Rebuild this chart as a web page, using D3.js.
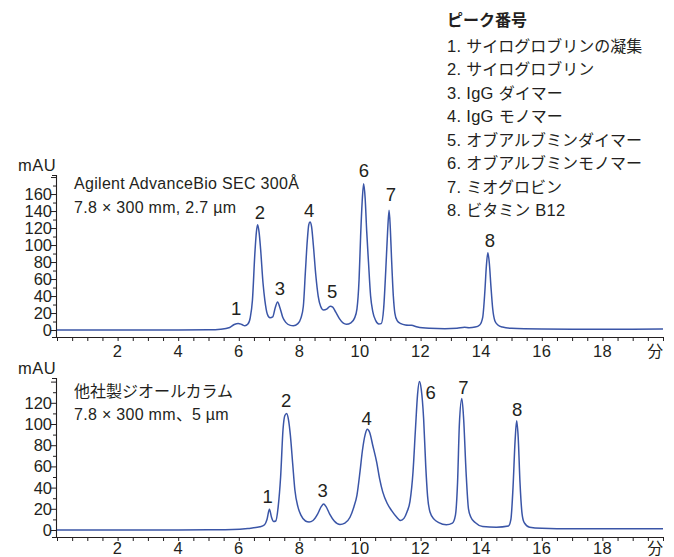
<!DOCTYPE html>
<html>
<head>
<meta charset="utf-8">
<script src="https://cdn.jsdelivr.net/npm/d3@7/dist/d3.min.js"></script>
<style>
  html, body { margin: 0; padding: 0; background: #fff; }
  svg { display: block; }
</style>
</head>
<body>
<svg id="chart" width="674" height="557"></svg>
<script>
// ---------- DATA ----------
const xTickLabels = ["2", "4", "6", "8", "10", "12", "14", "16", "18", "分"];
const xTickLabelValues = [2, 4, 6, 8, 10, 12, 14, 16, 18, 20];

const topTimes = [0, 1, 2, 3, 4, 5, 5.4, 5.7, 5.85, 5.98, 6.1, 6.2, 6.3, 6.38, 6.45, 6.53, 6.58, 6.62, 6.67, 6.72, 6.8, 6.86, 6.94, 7.03, 7.12, 7.2, 7.28, 7.36, 7.45, 7.55, 7.7, 7.8, 7.95, 8.05, 8.13, 8.2, 8.26, 8.31, 8.35, 8.4, 8.46, 8.54, 8.62, 8.7, 8.8, 8.9, 9.02, 9.1, 9.2, 9.32, 9.45, 9.55, 9.7, 9.82, 9.9, 9.97, 10.02, 10.07, 10.12, 10.17, 10.22, 10.28, 10.35, 10.42, 10.52, 10.62, 10.7, 10.78, 10.85, 10.91, 10.96, 11.0, 11.04, 11.1, 11.15, 11.22, 11.35, 11.5, 11.7, 11.9, 12.3, 12.8, 13.2, 13.45, 13.6, 13.8, 13.95, 14.05, 14.12, 14.17, 14.22, 14.27, 14.32, 14.38, 14.45, 14.55, 14.7, 15, 16, 17, 18, 19, 20];
const topValues = [0, 0, 0, 0, 0, 0.3, 1, 3, 6.5, 7.8, 6.5, 5, 7, 15, 35, 90, 115, 124, 115, 95, 55, 35, 19, 14.5, 15.5, 26, 33, 26, 15, 9, 5.5, 5, 7.5, 14, 28, 70, 105, 124, 127, 122, 100, 65, 40, 28, 23.5, 24.5, 28, 27, 21, 13.5, 8, 6.8, 8.5, 14, 25, 60, 110, 150, 172, 155, 117, 80, 40, 22, 11, 7, 7.5, 25, 70, 115, 141, 120, 85, 40, 20, 11.5, 7.5, 6, 5.5, 3.5, 2, 1.5, 2, 3.2, 2.8, 3.5, 6, 15, 45, 75, 91, 78, 52, 25, 11, 6, 3.5, 2, 1.2, 1, 1, 1, 1.2];

const bottomTimes = [0, 2, 4, 5, 5.8, 6.3, 6.7, 6.85, 6.93, 7.01, 7.08, 7.15, 7.22, 7.3, 7.38, 7.46, 7.52, 7.58, 7.64, 7.7, 7.78, 7.85, 7.95, 8.05, 8.2, 8.32, 8.45, 8.6, 8.72, 8.8, 8.88, 9.0, 9.15, 9.34, 9.5, 9.67, 9.8, 9.9, 10.0, 10.08, 10.17, 10.24, 10.32, 10.42, 10.55, 10.65, 10.75, 10.9, 11.05, 11.2, 11.34, 11.45, 11.55, 11.65, 11.75, 11.83, 11.9, 11.96, 12.02, 12.1, 12.17, 12.23, 12.31, 12.45, 12.6, 12.85, 13.05, 13.15, 13.22, 13.28, 13.36, 13.42, 13.5, 13.58, 13.66, 13.8, 14.05, 14.5, 14.9, 14.98, 15.05, 15.12, 15.17, 15.22, 15.28, 15.35, 15.42, 15.6, 16, 17, 18, 19, 20];
const bottomValues = [0, 0, 0, 0.2, 0.5, 1.5, 3, 5, 10, 19.5, 12, 8, 8.5, 22, 50, 95, 108, 110, 104, 90, 62, 38, 22, 14, 8.5, 7.5, 9, 15, 22, 24.5, 22, 15, 8.5, 5.2, 6.5, 12, 22, 33, 55, 75, 90, 95, 92, 80, 64, 48, 36, 25, 18, 12.5, 9, 11, 17, 27, 55, 95, 128, 140, 133, 105, 60, 32, 17, 10, 7, 5, 6.5, 14, 45, 100, 124, 105, 55, 20, 12, 7, 3.3, 2.7, 3.8, 10, 40, 85, 103, 88, 45, 15, 7, 2.7, 1.7, 1.2, 1.3, 1.1, 1.1];

const topPeakIds = ["1", "2", "3", "4", "5", "6", "7", "8"];
const topPeakTimes = [5.91, 6.70, 7.36, 8.32, 9.08, 10.13, 11.02, 14.29];
const topPeakLabelValues = [25.5, 139, 49, 141, 45, 188, 160, 106];

const bottomPeakIds = ["1", "2", "3", "4", "6", "7", "8"];
const bottomPeakTimes = [6.95, 7.56, 8.77, 10.22, 12.33, 13.41, 15.19];
const bottomPeakLabelValues = [31.4, 122, 37, 105, 130, 134.6, 114];

const topYTicks = d3.range(0, 181, 10);
const topYLabels = [0, 20, 40, 60, 80, 100, 120, 140, 160];
const bottomYTicks = d3.range(0, 141, 10);
const bottomYLabels = [0, 20, 40, 60, 80, 100, 120];

const topColumnLines = ["Agilent AdvanceBio SEC 300Å", "7.8 × 300 mm, 2.7 µm"];
const bottomColumnLines = ["他社製ジオールカラム", "7.8 × 300 mm、5 µm"];
const yUnit = "mAU";

const legendTitle = "ピーク番号";
const legendItems = [
  "1. サイログロブリンの凝集",
  "2. サイログロブリン",
  "3. IgG ダイマー",
  "4. IgG モノマー",
  "5. オブアルブミンダイマー",
  "6. オブアルブミンモノマー",
  "7. ミオグロビン",
  "8. ビタミン B12"
];

// ---------- STYLE ----------
const LATIN = "'Liberation Sans Narrow', 'Liberation Sans', Arial, sans-serif";
const CJK = "'Noto Sans CJK JP', 'Noto Sans CJK SC', sans-serif";
const INK = "#231f20";
const LINE = "#3a55a7";

const svg = d3.select("#chart");

function richText(g, str, latinSize, cjkSize, weight) {
  const parts = str.split(/([\u3000-\u30ff\u3400-\u9fff\uff00-\uffef]+)/).filter(s => s.length);
  parts.forEach(p => {
    const isCjk = /[\u3000-\u30ff\u3400-\u9fff\uff00-\uffef]/.test(p);
    g.append("tspan")
      .attr("font-family", isCjk ? CJK : LATIN)
      .attr("font-size", isCjk ? cjkSize : latinSize)
      .attr("font-weight", weight || "normal")
      .attr("letter-spacing", isCjk ? 0 : 0.3)
      .text(p);
  });
}

const x = d3.scaleLinear().domain([0, 20]).range([57, 663]);

function panel(cfg) {
  const y = d3.scaleLinear().domain(cfg.yDomain).range(cfg.yRange);
  const g = svg.append("g");

  // x axis
  const xAxis = d3.axisBottom(x)
    .tickValues(d3.range(0, 20.001, 0.5))
    .tickSize(4)
    .tickSizeOuter(0)
    .tickFormat("");
  const gx = g.append("g").attr("transform", `translate(0,${cfg.yRange[0]})`).call(xAxis);
  gx.select(".domain").attr("stroke", INK).attr("stroke-width", 1.1);
  gx.selectAll(".tick line").attr("stroke", INK).attr("stroke-width", 1);

  // x labels
  g.append("g").selectAll("text")
    .data(xTickLabelValues)
    .join("text")
    .attr("x", d => x(d))
    .attr("y", cfg.yRange[0] + cfg.xLabelOffset)
    .attr("dy", "0.36em")
    .attr("text-anchor", (d, i) => i === xTickLabelValues.length - 1 ? "end" : "middle")
    .attr("fill", INK)
    .each(function (d, i) { richText(d3.select(this), xTickLabels[i], 16.5, 15.5); });

  // y axis
  const yAxis = d3.axisLeft(y)
    .tickValues(cfg.yTicks)
    .tickSizeOuter(0)
    .tickSize(4)
    .tickFormat("");
  const gy = g.append("g").attr("transform", `translate(${x(0) - 1},0)`).call(yAxis);
  gy.select(".domain").attr("stroke", INK).attr("stroke-width", 1.1);
  gy.selectAll(".tick line")
    .attr("stroke", INK)
    .attr("x2", d => d % 20 === 0 ? -5 : -3);

  g.append("g").selectAll("text")
    .data(cfg.yLabels)
    .join("text")
    .attr("x", x(0) - 5)
    .attr("y", d => y(d))
    .attr("dy", "0.36em")
    .attr("text-anchor", "end")
    .attr("font-family", LATIN)
    .attr("font-size", 16.5)
    .attr("fill", INK)
    .text(d => d);

  // unit
  g.append("text")
    .attr("x", 18)
    .attr("y", cfg.unitY)
    .attr("dy", "0.36em")
    .attr("font-family", LATIN)
    .attr("font-size", 16.5)
    .attr("letter-spacing", 0.5)
    .attr("fill", INK)
    .text(yUnit);

  // trace
  const pts = cfg.times.map((t, i) => [t, cfg.values[i]]);
  g.append("path")
    .datum(pts)
    .attr("fill", "none")
    .attr("stroke", LINE)
    .attr("stroke-width", 1.5)
    .attr("stroke-linejoin", "round")
    .attr("d", d3.line().x(d => x(d[0])).y(d => y(d[1])).curve(d3.curveMonotoneX));

  // peak labels
  g.append("g").selectAll("text")
    .data(cfg.peakIds)
    .join("text")
    .attr("x", (d, i) => x(cfg.peakTimes[i]))
    .attr("y", (d, i) => y(cfg.peakValues[i]))
    .attr("dy", "0.36em")
    .attr("text-anchor", "middle")
    .attr("font-family", LATIN)
    .attr("font-size", 18.5)
    .attr("fill", INK)
    .text(d => d);

  // column description
  cfg.columnLines.forEach((line, i) => {
    const t = g.append("text")
      .attr("x", 74)
      .attr("y", cfg.columnY[i])
      .attr("dy", "0.36em")
      .attr("fill", INK);
    richText(t, line, 16, 16);
  });
}

panel({
  yDomain: [-8.2, 182.4], yRange: [337, 175], yTicks: topYTicks, yLabels: topYLabels,
  times: topTimes, values: topValues,
  peakIds: topPeakIds, peakTimes: topPeakTimes, peakValues: topPeakLabelValues,
  columnLines: topColumnLines, columnY: [183, 207], unitY: 165, xLabelOffset: 14.5
});

panel({
  yDomain: [-6.6, 143.4], yRange: [537, 378], yTicks: bottomYTicks, yLabels: bottomYLabels,
  times: bottomTimes, values: bottomValues,
  peakIds: bottomPeakIds, peakTimes: bottomPeakTimes, peakValues: bottomPeakLabelValues,
  columnLines: bottomColumnLines, columnY: [391, 414.5], unitY: 368, xLabelOffset: 11
});

// legend
const lg = svg.append("g");
const tt = lg.append("text").attr("x", 447).attr("y", 20.5).attr("dy", "0.36em").attr("fill", INK);
richText(tt, legendTitle, 16, 16, "bold");
legendItems.forEach((item, i) => {
  const t = lg.append("text")
    .attr("x", 447)
    .attr("y", 46 + i * 23.5)
    .attr("dy", "0.36em")
    .attr("fill", INK);
  richText(t, item, 16.5, 16);
});
</script>
</body>
</html>
